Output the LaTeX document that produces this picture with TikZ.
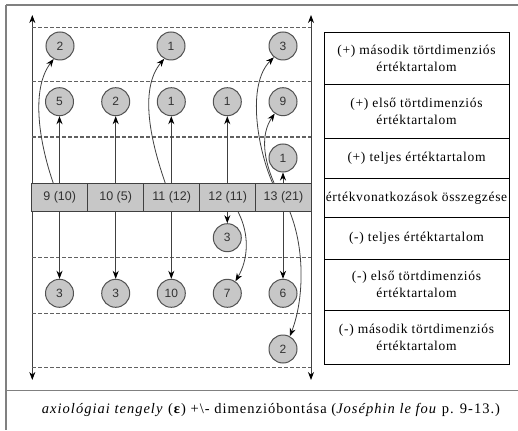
\documentclass[tikz,border=0pt]{standalone}
\usepackage{fontspec}
\setmainfont{Liberation Serif}
\newfontfamily\numfont{Liberation Sans}
\newfontfamily\labfont[LetterSpace=5]{Liberation Serif}
\newfontfamily\capfont[LetterSpace=7]{Liberation Serif}
\usetikzlibrary{arrows.meta}
\tikzset{
  numc/.style={circle, draw=black!68, fill=black!22, minimum size=28pt, inner sep=0pt,
    line width=1pt, text=black!80, font=\numfont\fontsize{12}{12}\selectfont},
  cell/.style={rectangle, draw=black!75, fill=black!22, minimum width=56pt, minimum height=28.4pt,
    inner sep=0pt, line width=0.9pt, text=black!80, font=\numfont\fontsize{12.5}{12.5}\selectfont},
  lab/.style={rectangle, draw=black, minimum width=185pt, inner sep=0pt, align=center,
    line width=0.9pt, font=\labfont\fontsize{13.5}{17}\selectfont},
  arr/.style={-{Stealth[length=8pt,width=6pt,color=black]}, draw=black!75, line width=0.8pt},
  axisline/.style={{Stealth[length=8pt,width=6pt,color=black]}-{Stealth[length=8pt,width=6pt,color=black]}, draw=black!75, line width=0.8pt},
  dline/.style={dashed, dash pattern=on 4pt off 2pt, draw=black!62, line width=1.2pt},
  frameline/.style={draw=black!50}
}
\begin{document}
\begin{tikzpicture}[x=1pt,y=-1pt]
\useasboundingbox (0,0) rectangle (518,430);
\fill[white] (0,0) rectangle (518,430);
% frame
\coordinate (ftr) at (518,5.5);
\coordinate (ftl) at (6,5.5);
\coordinate (fbl) at (6,430);
\coordinate (fml) at (6,390);
\coordinate (fmr) at (518,390);
\draw[frameline, line width=2pt] (ftr) -- (ftl);
\draw[frameline, line width=1.2pt] (ftl) -- (fbl);
\draw[frameline, line width=1pt] (fml) -- (fmr);
% axes
\coordinate (lt) at (32.3,15);
\coordinate (lb) at (32.3,380);
\coordinate (rt) at (311,15);
\coordinate (rb) at (311,380);
\draw[axisline] (lt) -- (lb);
\draw[axisline] (rt) -- (rb);
% dashed lines
\foreach \yy/\nm in {27.3/d1, 81.7/d2, 137/d3, 257.3/d4, 313.3/d5, 367.3/d6}{
  \coordinate (\nm l) at (32.3,\yy);
  \coordinate (\nm r) at (311,\yy);
  \draw[dline] (\nm l) -- (\nm r);
}
% bar
\node[cell] (k1) at (59.7,197.5) {9 (10)};
\node[cell] (k2) at (115.7,197.5) {10 (5)};
\node[cell] (k3) at (171.7,197.5) {11 (12)};
\node[cell] (k4) at (227.7,197.5) {12 (11)};
\node[cell] (k5) at (283.5,197.5) {13 (21)};
% circles
\node[numc] (a1) at (60,46) {2};
\node[numc] (a3) at (171,46) {1};
\node[numc] (a5) at (283,46) {3};
\node[numc] (b1) at (59.5,101.7) {5};
\node[numc] (b2) at (115.7,101.7) {2};
\node[numc] (b3) at (171.3,101.7) {1};
\node[numc] (b4) at (227.3,101.7) {1};
\node[numc] (b5) at (283,101.7) {9};
\node[numc] (c5) at (283,158) {1};
\node[numc] (d4) at (227.3,237.7) {3};
\node[numc] (e1) at (59.5,293.3) {3};
\node[numc] (e2) at (115.7,293.3) {3};
\node[numc] (e3) at (171.3,293.3) {10};
\node[numc] (e4) at (227.3,293.3) {7};
\node[numc] (e5) at (283,293.3) {6};
\node[numc] (f5) at (283,349) {2};
% straight arrows
\draw[arr] (k1.north -| b1) -- (b1.south);
\draw[arr] (k2.north -| b2) -- (b2.south);
\draw[arr] (k3.north -| b3) -- (b3.south);
\draw[arr] (k4.north -| b4) -- (b4.south);
\draw[arr] (k5.north -| c5) -- (c5.south);
\draw[arr] (k1.south -| e1) -- (e1.north);
\draw[arr] (k2.south -| e2) -- (e2.north);
\draw[arr] (k3.south -| e3) -- (e3.north);
\draw[arr] (k4.south -| d4) -- (d4.north);
\draw[arr] (k5.south -| e5) -- (e5.north);
% curved arrows
\draw[arr] ([xshift=-6.5pt]k1.north) .. controls (40,145) and (30,90) .. (a1.244);
\draw[arr] ([xshift=-6.5pt]k3.north) .. controls (152,145) and (138,90) .. (a3.242);
\draw[arr] ([xshift=-11pt]k5.north) .. controls (258,150) and (246,85) .. (a5.231);
\draw[arr] ([xshift=-9.5pt]k5.north) .. controls (264,160) and (260,135) .. (b5.235);
\draw[arr] ([xshift=10.5pt]k4.south) .. controls (250,235) and (248,260) .. (e4.56);
\draw[arr] ([xshift=6.5pt]k5.south) .. controls (305,250) and (304,300) .. (f5.62);
% label boxes
\node[lab, minimum height=52pt] (L1) at (416.5,58.3) {(+) második törtdimenziós\\értéktartalom};
\node[lab, minimum height=54pt] (L2) at (416.5,111.3) {(+) első törtdimenziós\\értéktartalom};
\node[lab, minimum height=40pt] (L3) at (416.5,158.3) {(+) teljes értéktartalom};
\node[lab, minimum height=39.4pt] (L4) at (416.5,198) {értékvonatkozások összegzése};
\node[lab, minimum height=41.3pt] (L5) at (416.5,238.3) {(-) teljes értéktartalom};
\node[lab, minimum height=51pt] (L6) at (416.5,284.5) {(-) első törtdimenziós\\értéktartalom};
\node[lab, minimum height=54pt] (L7) at (416.5,337) {(-) második törtdimenziós\\értéktartalom};
% caption
\node[font=\capfont\fontsize{14.5}{17}\selectfont] (cap) at (271,410) {\textit{axiológiai tengely} (\textbf{ε}) +\textbackslash- dimenzióbontása (\textit{Joséphin le fou} p. 9-13.)};
\end{tikzpicture}
\end{document}
